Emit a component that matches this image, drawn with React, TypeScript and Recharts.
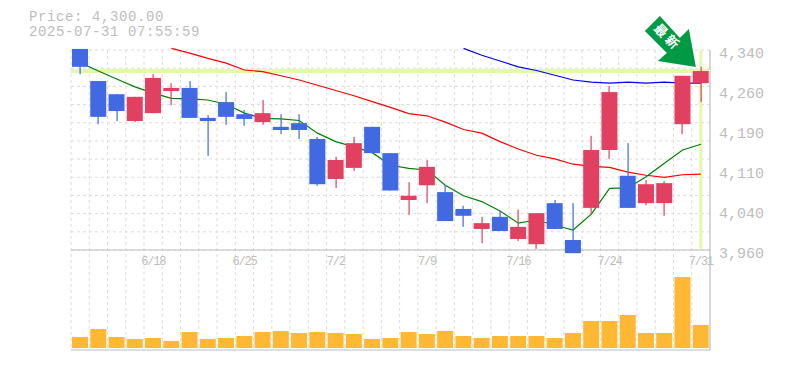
import React from "react";
import { ComposedChart, Bar, Line, XAxis, YAxis, CartesianGrid, ReferenceLine, ReferenceDot } from "recharts";

const dates = ["6/12","6/13","6/16","6/17","6/18","6/19","6/20","6/23","6/24","6/25","6/26","6/27","6/30","7/1","7/2","7/3","7/4","7/7","7/8","7/9","7/10","7/11","7/14","7/15","7/16","7/17","7/18","7/22","7/23","7/24","7/25","7/28","7/29","7/30","7/31"];
const opens = [4342,4281,4256,4205,4220,4262,4268,4211,4241,4218,4203,4194,4201,4171,4095,4116,4194,4144,4055,4083,4070,4038,4000,4023,3981,3971,4049,3979,4040,4150,4101,4049,4049,4199,4277];
const closes = [4308,4213,4224,4251,4287,4268,4211,4205,4213,4209,4220,4188,4188,4085,4131,4163,4144,4073,4063,4118,4015,4025,4011,3996,4004,4030,4000,3954,4150,4260,4040,4085,4087,4291,4300];
const highs = [4342,4281,4256,4251,4294,4277,4281,4216,4260,4226,4245,4218,4218,4175,4137,4175,4194,4144,4089,4131,4083,4044,4023,4034,4037,4030,4055,4049,4177,4272,4163,4093,4091,4291,4308];
const lows = [4294,4199,4205,4203,4220,4235,4211,4139,4198,4196,4198,4180,4171,4082,4078,4110,4144,4073,4027,4049,4015,4004,3973,3996,3977,3962,4000,3954,4028,4133,4040,4045,4025,4180,4241];
const volumes = [11000,19000,11000,9000,10000,7000,16000,9000,10000,12000,16000,17000,15000,16000,15000,14000,9000,10000,16000,14000,17000,12000,10000,12000,12000,12000,10000,15000,27000,27000,33000,15000,15000,71000,23000];
const ma5 = [4316,4300,4285,4270,4258,4248,4247,4245,4237,4220,4210,4209,4206,4182,4166,4156,4145,4121,4115,4112,4083,4063,4052,4034,4011,4017,4007,3998,4028,4077,4078,4099,4125,4150,4161];
const ma25 = [null,null,null,null,null,4343,4334,4324,4315,4302,4299,4291,4283,4273,4263,4253,4242,4231,4219,4215,4203,4189,4182,4166,4152,4140,4133,4123,4119,4117,4108,4102,4098,4103,4104];
const ma75 = [...Array(21).fill(null),4343,4330,4319,4308,4301,4292,4283,4279,4277,4279,4277,4279,4277,4277];
const priceTicks = [4340,4264,4188,4112,4036,3960];
const dateTicks = ["6/18","6/25","7/2","7/9","7/16","7/24","7/31"];
const currentPrice = 4300;
const titleLines = ["Price: 4,300.00","2025-07-31 07:55:59"];
const arrowLabel = "最新";

const candles = dates.map((date,i)=>({date,open:opens[i],close:closes[i],high:highs[i],low:lows[i],volume:volumes[i],ma5:ma5[i],ma25:ma25[i],ma75:ma75[i]}));

const MONO = "'Liberation Mono', monospace";
const GREY = "#bdbdbd";
const W = 785, H = 370, LEFT = 71, AXIS = 75;
const layer:React.CSSProperties = {position:"absolute",left:0,top:0};
const priceMargin = {top:30,bottom:99,left:LEFT,right:0};
const priceDomain = [3922,4378];

function CandleShape(props:any){
  const {x,y,width,height,payload} = props;
  const {open,close,high,low} = payload;
  const up = close>=open;
  const color = up?"#E24060":"#4169E1";
  const unit = height/(high-low||1);
  const top = y+(high-Math.max(open,close))*unit;
  const bh = Math.abs(open-close)*unit;
  const cx = Math.round(x+width/2);
  return <g>
    <rect x={cx-0.5} y={y} width={1.2} height={height} fill={color}/>
    <rect x={x} y={top} width={width} height={bh} fill={color}/>
  </g>;
}

function PriceTick(props:any){
  const {x,y,payload} = props;
  const v = Math.round(payload.value/10)*10;
  return <text x={x} y={y+8} fontFamily={MONO} fontSize={15} fill={GREY}>{v.toLocaleString("en-US")}</text>;
}
function DateTick(props:any){
  const {x,y,payload} = props;
  return <text x={x} y={y-13} textAnchor="middle" fontFamily={MONO} fontSize={12} letterSpacing={-1.2} fill={GREY}>{payload.value}</text>;
}
function ArrowShape(props:any){
  const {cx,cy} = props;
  const pts = [[-41,-55],[-56,-40],[-34,-18],[-43,-10],[-5,-4],[-12,-42],[-21,-33]];
  return <g>
    <polygon points={pts.map(p=>`${cx+p[0]},${cy+p[1]}`).join(" ")} fill="#009944"/>
    <text x={0} y={0} transform={`translate(${cx-34},${cy-33}) rotate(45)`} textAnchor="middle" dominantBaseline="middle" fontFamily="'Noto Sans CJK JP'" fontWeight={700} fontSize={13} letterSpacing={3} fill="#fff">{arrowLabel}</text>
  </g>;
}

export default function App(){
  return <div style={{position:"absolute",left:0,top:0,width:W,height:H,background:"#fff"}}>
    <div style={layer}>
      <ComposedChart width={W} height={H} data={candles} margin={{top:50,bottom:19,left:LEFT,right:0}} barCategoryGap={0}>
        <CartesianGrid stroke="#dcdcdc" strokeDasharray="3 3"
          horizontalCoordinatesGenerator={({offset}:any)=>Array.from({length:12},(_,k)=>offset.top+k*offset.height*2/33)}
          verticalCoordinatesGenerator={({offset}:any)=>dates.map((_,k)=>offset.left+k*offset.width/dates.length)}/>
        <XAxis dataKey="date" height={1} tick={false} tickLine={false} stroke={GREY} strokeWidth={1.2}/>
        <YAxis orientation="right" width={AXIS} domain={[-2000,298000]} tick={false} tickLine={false} stroke={GREY} strokeWidth={1.2}/>
        <Bar dataKey="volume" barSize={16} fill="#FFB833" isAnimationActive={false}/>
      </ComposedChart>
    </div>
    <div style={layer}>
      <ComposedChart width={W} height={H} data={candles} margin={priceMargin} barCategoryGap={0}>
        <XAxis dataKey="date" scale="band" height={1} ticks={dateTicks} interval={0} axisLine={false} tickLine={false} tick={<DateTick/>}/>
        <YAxis orientation="right" width={AXIS} domain={priceDomain} allowDataOverflow ticks={priceTicks} interval={0} axisLine={false} tickLine={false} tickSize={0} tickMargin={9} tick={<PriceTick/>}/>
        <ReferenceLine y={3960} stroke={GREY} strokeWidth={1.2}/>
        <ReferenceLine y={currentPrice} stroke="#E3F8A8" strokeWidth={4}/>
        <ReferenceLine segment={[{x:dates[34],y:4340},{x:dates[34],y:3962}]} stroke="#E3F8A8" strokeWidth={3}/>
        <Line dataKey="ma5" stroke="#008000" dot={false} strokeWidth={1.2} isAnimationActive={false}/>
        <Line dataKey="ma25" stroke="#ff0000" dot={false} strokeWidth={1.2} isAnimationActive={false}/>
        <Line dataKey="ma75" stroke="#0000ff" dot={false} strokeWidth={1.2} isAnimationActive={false}/>
      </ComposedChart>
    </div>
    <div style={layer}>
      <ComposedChart width={W} height={H} data={candles} margin={priceMargin} barCategoryGap={0}>
        <XAxis dataKey="date" height={1} tick={false} axisLine={false} tickLine={false}/>
        <YAxis orientation="right" width={AXIS} domain={priceDomain} allowDataOverflow tick={false} axisLine={false} tickLine={false}/>
        <Bar dataKey={(d:any)=>[d.low,d.high]} barSize={16} shape={<CandleShape/>} isAnimationActive={false}/>
        <ReferenceDot x={dates[34]} y={currentPrice} shape={<ArrowShape/>}/>
      </ComposedChart>
    </div>
    {titleLines.map((t,i)=><div key={t} style={{position:"absolute",left:29,top:10+i*15,height:15,fontFamily:MONO,fontSize:14,letterSpacing:0.6,lineHeight:"15px",color:GREY,whiteSpace:"pre"}}>{t}</div>)}
  </div>;
}
